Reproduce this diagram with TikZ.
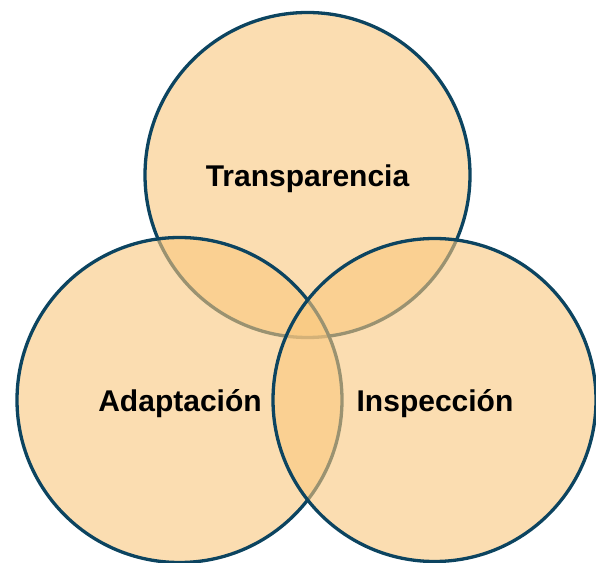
\documentclass[tikz,border=0pt]{standalone}
\usepackage{fontspec}
\setmainfont{Liberation Sans}
\definecolor{vennfill}{RGB}{249,199,125}
\definecolor{vennline}{RGB}{12,68,96}
\tikzset{
  venncircle/.style={draw=vennline, line width=3.3pt, fill=vennfill, fill opacity=0.6, draw opacity=1},
  vennlabel/.style={anchor=base, font=\fontsize{30}{33}\selectfont\bfseries, text=black, inner sep=0pt}
}
\begin{document}
\begin{tikzpicture}[x=1pt,y=1pt]
\useasboundingbox (0,0) rectangle (596,562);
\coordinate (ctop) at (307.5,387);
\coordinate (cleft) at (179.5,162);
\coordinate (cright) at (434.5,162);
\draw[venncircle] (ctop) circle[radius=162.5];
\draw[venncircle] (cleft) circle[radius=162.5];
\draw[venncircle] (cright) circle[radius=161.5];
\node[vennlabel] (t) at (307.5,375) {Transparencia};
\node[vennlabel] (a) at (180,150) {Adaptación};
\node[vennlabel] (i) at (435,150) {Inspección};
\end{tikzpicture}
\end{document}
